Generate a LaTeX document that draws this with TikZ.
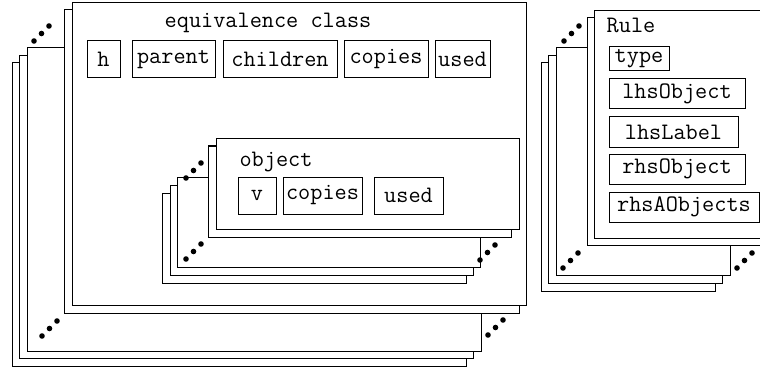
\documentclass[tikz,border=0pt]{standalone}
\usepackage{tikz}

\newcommand\stackdots[1]{\fill #1 circle (1.4pt) ++(7.5,-7.5) circle (1.4pt) ++(7.5,-7.5) circle (1.4pt);}

\begin{document}
\begin{tikzpicture}[x=0.5pt,y=-0.5pt,line width=0.5pt]
\tikzstyle{every node}=[font=\ttfamily\fontsize{11.8}{14}\selectfont, inner sep=0pt]
\tikzstyle{page}=[draw,fill=white]
\tikzstyle{field}=[draw, minimum height=18.5pt]
\tikzstyle{rulefield}=[draw, minimum height=15pt]
\useasboundingbox (0,0) rectangle (760,369);
\clip (0,0) rectangle (760,369);
% equivalence classes
\draw[page] (12,63) rectangle +(454,303);
\draw[page] (19,56) rectangle +(454,302);
\draw[page] (27,48) rectangle +(454,303);
\stackdots{(34,41)}
\stackdots{(42,336)}
\stackdots{(488,335)}
\draw[page] (64,10) rectangle +(455,303);
\draw[page] (72,3) rectangle +(454,302);
\draw (268,28) node (eqtitle) [anchor=base] {equivalence class};
\draw (103.5,59.5) node (eqh) [field,minimum width=16.5pt] {h};
\draw (173.5,59.5) node (eqparent) [field,minimum width=41.5pt] {parent};
\draw (280,59.5) node (eqchildren) [field,minimum width=57pt] {children};
\draw (386,59.5) node (eqcopies) [field,minimum width=42pt] {copies};
\draw (462.5,59.5) node (eqused) [field,minimum width=27.5pt] {used};
% objects
\draw[page] (162,193) rectangle +(304,90);
\draw[page] (170,185) rectangle +(303,90);
\draw[page] (177,177) rectangle +(303,90);
\stackdots{(186,178)}
\stackdots{(186,259)}
\stackdots{(480,260)}
\draw[page] (208,146) rectangle +(303,91);
\draw[page] (216,139) rectangle +(303,90);
\draw (276,166) node (objtitle) [anchor=base] {object};
\draw (257,195.5) node (objv) [field,minimum width=19pt] {v};
\draw (322.5,195.5) node (objcopies) [field,minimum width=39.5pt] {copies};
\draw (408.5,195.5) node (objused) [field,minimum width=34.5pt] {used};
% rules
\draw[page] (541,63) rectangle +(174,228);
\draw[page] (548,56) rectangle +(174,227);
\draw[page] (556,48) rectangle +(174,227);
\stackdots{(564,41)}
\stackdots{(563,268)}
\stackdots{(737,268)}
\draw[page] (587,18) rectangle +(174,227);
\draw[page] (594,11) rectangle +(174,227);
\draw (631,33) node (ruletitle) [anchor=base] {Rule};
\draw (639,59) node (ruletype) [draw,minimum height=12pt,minimum width=30pt] {type};
\draw (677,93.5) node (rulelhsobj) [rulefield,minimum width=68pt] {lhsObject};
\draw (673.5,132) node (rulelhslabel) [rulefield,minimum width=64.5pt] {lhsLabel};
\draw (677,169) node (rulerhsobj) [rulefield,minimum width=68pt] {rhsObject};
\draw (684,207) node (rulerhsaobjs) [rulefield,minimum width=75pt] {rhsAObjects};
\end{tikzpicture}
\end{document}
